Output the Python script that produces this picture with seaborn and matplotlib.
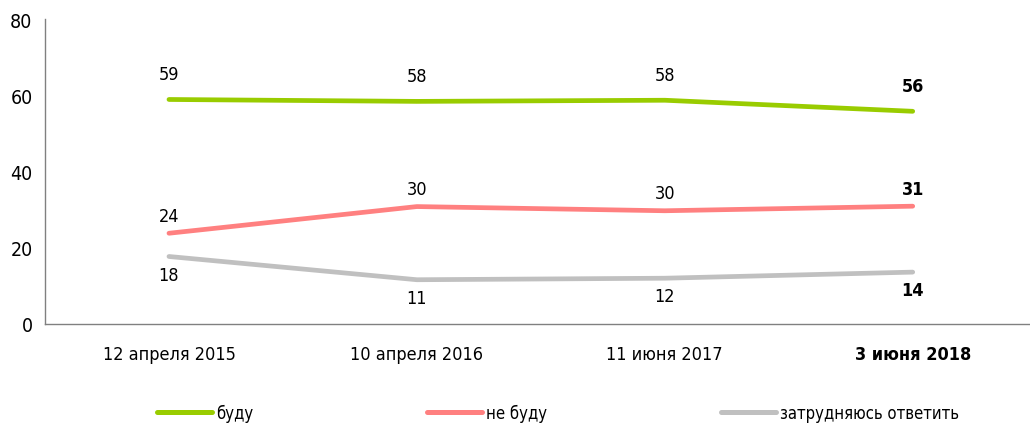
import matplotlib
matplotlib.use('Agg')
import matplotlib.pyplot as plt
import numpy as np
import pandas as pd
import seaborn as sns

dates = ['12 апреля 2015', '10 апреля 2016', '11 июня 2017', '3 июня 2018']
series = ['буду', 'не буду', 'затрудняюсь ответить']
will_vote = [58.9, 58.4, 58.7, 55.8]
will_not = [23.8, 30.8, 29.7, 30.9]
unsure = [17.7, 11.6, 12.0, 13.6]
will_vote_lbl = [59, 58, 58, 56]
will_not_lbl = [24, 30, 30, 31]
unsure_lbl = [18, 11, 12, 14]
colors = ['#99cc00', '#ff8080', '#c0c0c0']

sns.set_style('white')
plt.rcParams['font.family'] = ['DejaVu Sans']
plt.rcParams['font.stretch'] = 'condensed'
plt.rcParams['text.color'] = 'black'
plt.rcParams['xtick.color'] = 'black'
plt.rcParams['ytick.color'] = 'black'

df = pd.DataFrame({
    'date': dates * 3,
    'x': list(range(len(dates))) * 3,
    'value': will_vote + will_not + unsure,
    'series': [s for s in series for _ in dates],
})

fig = plt.figure(figsize=(10.3, 4.27), dpi=100)
ax = fig.add_axes([0.0437, 0.239, 0.97, 0.714])

sns.lineplot(data=df, x='x', y='value', hue='series', palette=colors,
             linewidth=3.4, solid_capstyle='round', ax=ax, legend=True)

# value labels (offsets in points)
offsets = [18, 12.5, -13]
for vals, lbls, off in zip([will_vote, will_not, unsure],
                           [will_vote_lbl, will_not_lbl, unsure_lbl], offsets):
    for i, (v, l) in enumerate(zip(vals, lbls)):
        ax.annotate(str(l), (i, v), xytext=(0, off), textcoords='offset points',
                    ha='center', va='center', fontsize=13,
                    fontweight='bold' if i == len(dates) - 1 else 'normal')

ax.set_xlim(-0.5, 3.53)
ax.set_ylim(0, 80)
ax.set_yticks([0, 20, 40, 60, 80])
ax.set_xticks(range(len(dates)))
ax.set_xticklabels(dates, fontsize=13)
ax.get_xticklabels()[-1].set_fontweight('bold')
ax.set_xticks([0.5, 1.5, 2.5], minor=True)
ax.tick_params(axis='x', which='major', length=0, pad=15.5)
ax.tick_params(axis='x', which='minor', length=5, color='#808080', direction='out')
ax.tick_params(axis='y', length=5, color='#808080', direction='out', labelsize=14, pad=4)
ax.set_xlabel('')
ax.set_ylabel('')
for s in ['top', 'right']:
    ax.spines[s].set_visible(False)
for s in ['left', 'bottom']:
    ax.spines[s].set_color('#808080')
    ax.spines[s].set_linewidth(1)

handles, labels = ax.get_legend_handles_labels()
ax.get_legend().remove()
for h in handles:
    h.set_solid_capstyle('round')
    h.set_linewidth(3.6)
fig.legend(handles, labels, loc='center left', bbox_to_anchor=(0.138, 0.03),
           ncol=3, frameon=False, fontsize=12, handlelength=3.3,
           handletextpad=0.25, columnspacing=10.4)

fig.savefig('out.png', dpi=100)
